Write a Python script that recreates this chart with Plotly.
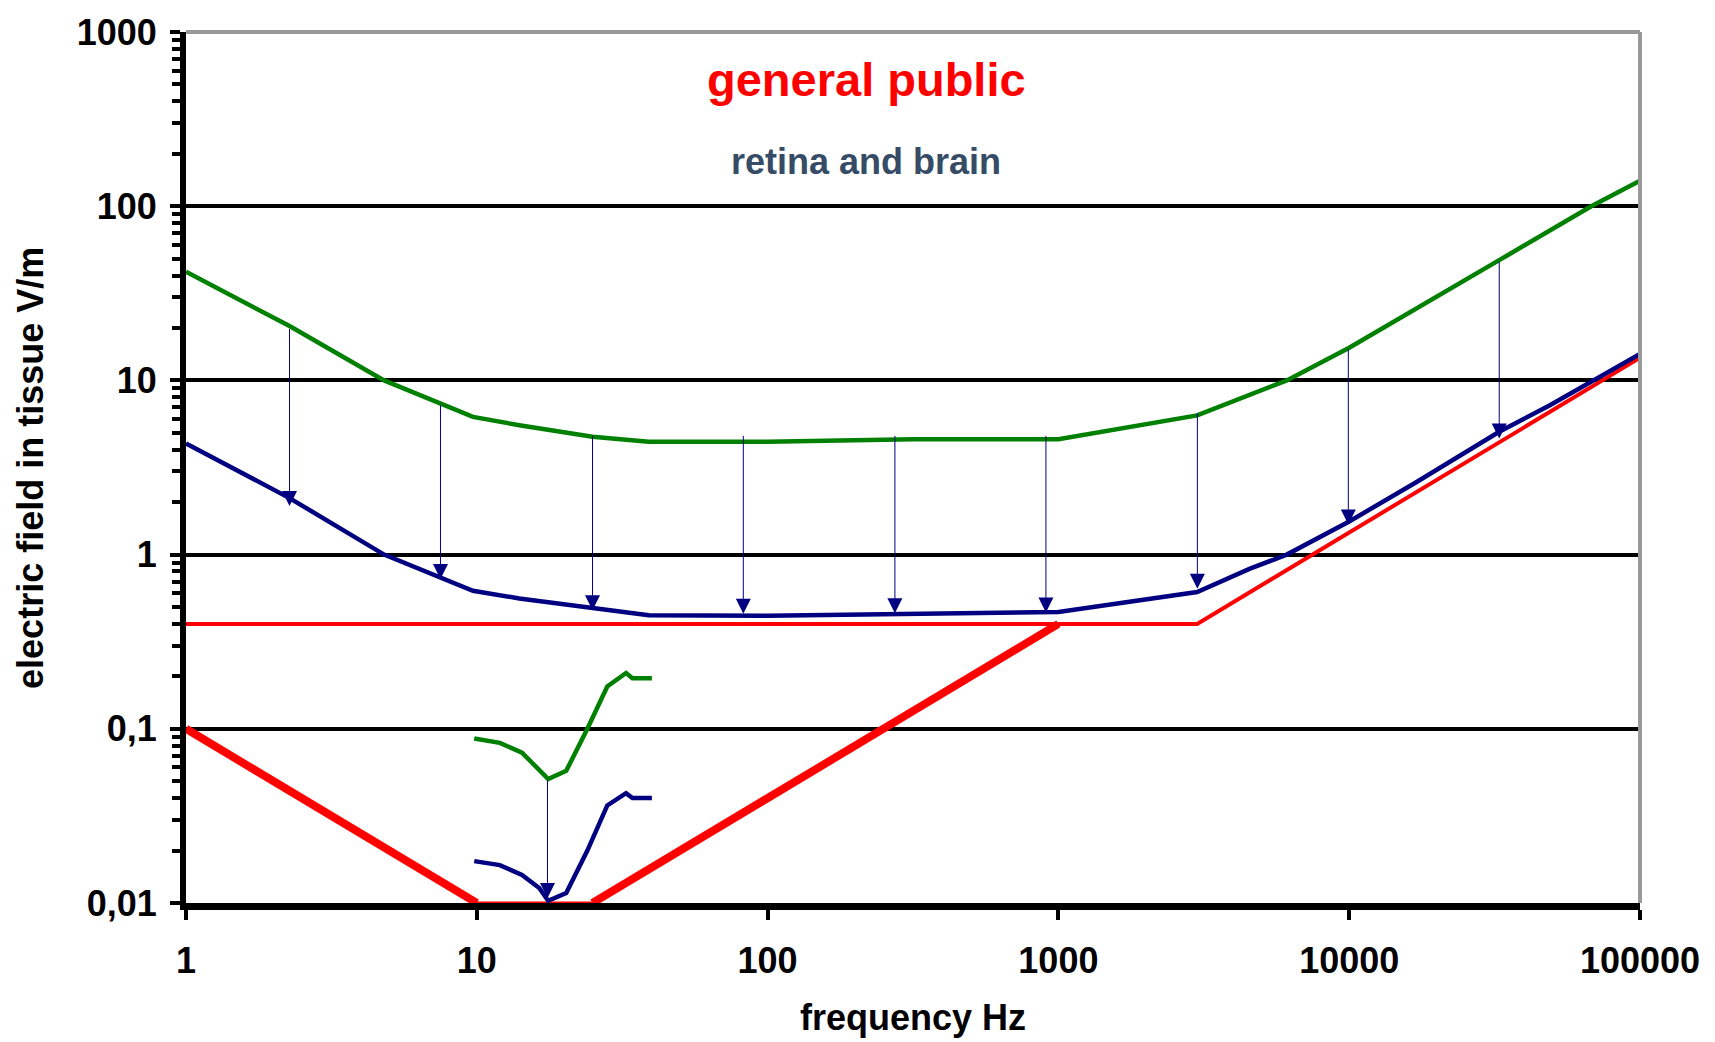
import numpy as np
import plotly.graph_objects as go

# ---- data (frequency in Hz, field strength in V/m) ----
green_freq = [1, 2.27, 4.8, 6.2, 7.5, 9.7, 14, 25, 39, 100, 316, 1000, 3000, 4560, 6100,
              10000, 17000, 32800, 68000, 100000]
green_val = [42, 20.5, 10, 8.4, 7.35, 6.17, 5.53, 4.75, 4.45, 4.45, 4.6, 4.6, 6.3, 8.2, 10,
             15.4, 26, 49, 100, 140]

blue_freq = [1, 2.27, 4.8, 6.2, 7.5, 9.7, 14, 25, 39, 100, 180, 560, 1000, 3000, 4560, 6100,
             10000, 17000, 32800, 49000, 100000]
blue_val = [4.35, 2.11, 1.0, 0.84, 0.74, 0.62, 0.56, 0.49, 0.448, 0.445, 0.45, 0.46, 0.468,
            0.61, 0.83, 1.0, 1.55, 2.6, 5.07, 7.2, 14.2]

red_thick_freq = [1, 10, 25, 1000]
red_thick_val = [0.1, 0.01, 0.01, 0.4]

red_thin_freq = [1, 3000, 100000]
red_thin_val = [0.4, 0.4, 13.5]

small_freq = [9.8, 12, 14.3, 16.4, 17.6, 20.3, 24, 28.1, 32.6, 34.3, 40]
green_small_val = [0.088, 0.083, 0.073, 0.0587, 0.0515, 0.0574, 0.1, 0.175, 0.209, 0.195, 0.195]
blue_small_val = [0.0174, 0.0165, 0.0145, 0.0122, 0.0103, 0.0114, 0.02, 0.0363, 0.0427, 0.040, 0.040]

# reduction arrows: frequency, start value, end value
arrow_freq = [2.27, 7.5, 25, 82.5, 274, 906, 3005, 9930, 32800, 17.5]
arrow_from = [20.1, 7.35, 4.9, 4.9, 4.9, 4.9, 6.6, 15.4, 49, 0.0515]
arrow_to = [1.9, 0.725, 0.479, 0.458, 0.46, 0.465, 0.637, 1.49, 4.64, 0.0107]

x_tick_vals = [1, 10, 100, 1000, 10000, 100000]
x_tick_text = ["1", "10", "100", "1000", "10000", "100000"]
y_tick_vals = [0.01, 0.1, 1, 10, 100, 1000]
y_tick_text = ["0,01", "0,1", "1", "10", "100", "1000"]

FONT = "Liberation Sans, Arial, sans-serif"
RED = "#ff0000"
GREEN = "#008000"
NAVY = "#000080"

fig = go.Figure()

# thick red limit: sloped parts drawn heavy, the flat floor drawn thin
fig.add_trace(go.Scatter(x=red_thick_freq[1:3], y=red_thick_val[1:3], mode="lines",
                         line=dict(color=RED, width=3)))
fig.add_trace(go.Scatter(x=red_thick_freq[0:2], y=red_thick_val[0:2], mode="lines",
                         line=dict(color=RED, width=8)))
fig.add_trace(go.Scatter(x=red_thick_freq[2:4], y=red_thick_val[2:4], mode="lines",
                         line=dict(color=RED, width=8)))
fig.add_trace(go.Scatter(x=red_thin_freq, y=red_thin_val, mode="lines",
                         line=dict(color=RED, width=4)))
fig.add_trace(go.Scatter(x=blue_freq, y=blue_val, mode="lines",
                         line=dict(color=NAVY, width=4.5)))
fig.add_trace(go.Scatter(x=green_freq, y=green_val, mode="lines",
                         line=dict(color=GREEN, width=4.5)))
fig.add_trace(go.Scatter(x=small_freq, y=blue_small_val, mode="lines",
                         line=dict(color=NAVY, width=4.5)))
fig.add_trace(go.Scatter(x=small_freq, y=green_small_val, mode="lines",
                         line=dict(color=GREEN, width=4.5)))

annotations = []
for f, a, b in zip(arrow_freq, arrow_from, arrow_to):
    annotations.append(dict(
        x=np.log10(f), y=np.log10(b), ax=np.log10(f), ay=np.log10(a),
        xref="x", yref="y", axref="x", ayref="y", text="",
        showarrow=True, arrowhead=2, arrowsize=3, arrowwidth=1, arrowcolor=NAVY))

annotations += [
    dict(text="general public", x=0.4677, y=0.946, xref="paper", yref="paper",
         xanchor="center", yanchor="middle", showarrow=False,
         font=dict(family=FONT, size=47, color=RED, weight="bold")),
    dict(text="retina and brain", x=0.4677, y=0.851, xref="paper", yref="paper",
         xanchor="center", yanchor="middle", showarrow=False,
         font=dict(family=FONT, size=36, color="#364b66", weight="bold")),
    dict(text="frequency Hz", x=0.5, y=-0.131, xref="paper", yref="paper",
         xanchor="center", yanchor="middle", showarrow=False,
         font=dict(family=FONT, size=36, color="black", weight="bold")),
    dict(text="electric field in tissue V/m", x=-0.107, y=0.5, xref="paper", yref="paper",
         xanchor="center", yanchor="middle", showarrow=False, textangle=-90,
         font=dict(family=FONT, size=36, color="black", weight="bold")),
]

fig.update_layout(
    width=1715, height=1042,
    margin=dict(l=186, r=75, t=25, b=139),
    plot_bgcolor="white", paper_bgcolor="white",
    showlegend=False,
    annotations=annotations,
    shapes=[
        dict(type="line", xref="paper", yref="paper", x0=0, x1=1, y0=1, y1=1,
             line=dict(color="#999999", width=4)),
        dict(type="line", xref="paper", yref="paper", x0=1, x1=1, y0=0, y1=1,
             line=dict(color="#999999", width=4)),
    ],
)

fig.update_xaxes(
    type="log", range=[0, 5],
    tickmode="array", tickvals=x_tick_vals, ticktext=x_tick_text,
    ticks="outside", ticklen=10, tickwidth=4, tickcolor="black",
    showline=True, linecolor="black", linewidth=7,
    showgrid=False, zeroline=False,
    ticklabelstandoff=10,
    tickfont=dict(family=FONT, size=36, color="black", weight="bold"),
)
fig.update_yaxes(
    type="log", range=[-2, 3],
    tickmode="array", tickvals=y_tick_vals, ticktext=y_tick_text,
    ticks="outside", ticklen=10, tickwidth=4, tickcolor="black",
    showline=True, linecolor="black", linewidth=6,
    showgrid=True, gridcolor="black", gridwidth=3.5, zeroline=False,
    minor=dict(ticks="outside", ticklen=8, tickwidth=4, tickcolor="black",
               dtick="D1", showgrid=False),
    ticklabelstandoff=6,
    tickfont=dict(family=FONT, size=36, color="black", weight="bold"),
)

fig.write_html("out.html")
